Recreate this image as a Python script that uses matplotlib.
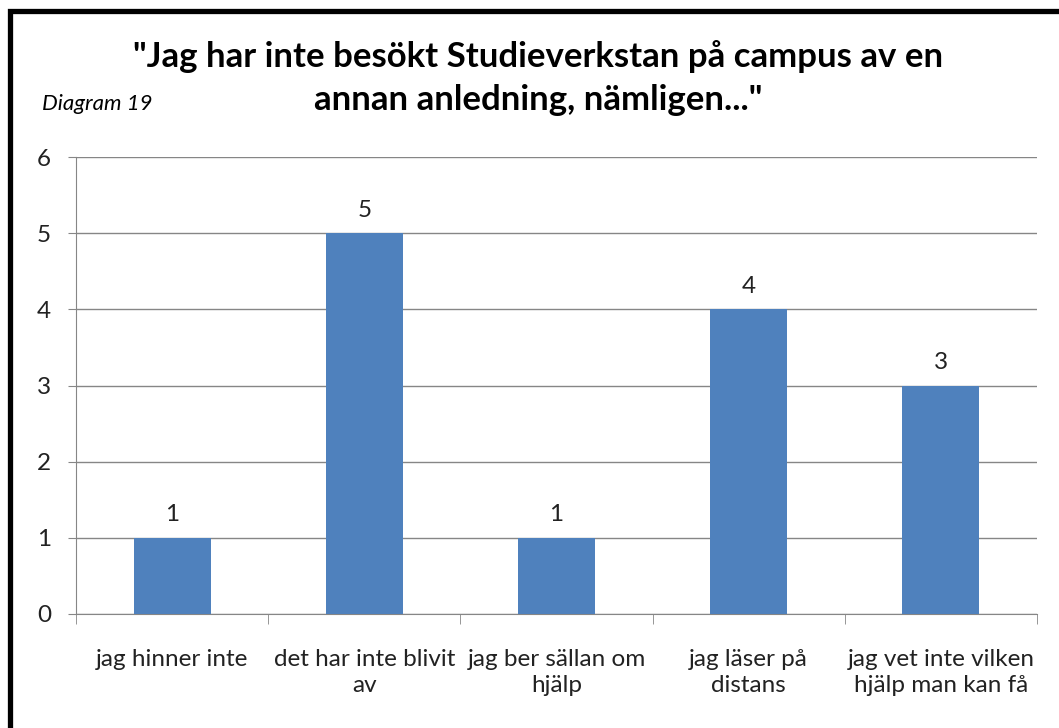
import matplotlib.pyplot as plt
from matplotlib.patches import Rectangle

# data
categories = ["jag hinner inte", "det har inte blivit\nav", "jag ber sällan om\nhjälp",
              "jag läser på\ndistans", "jag vet inte vilken\nhjälp man kan få"]
counts = [1, 5, 1, 4, 3]
y_ticks = [0, 1, 2, 3, 4, 5, 6]

title_lines = ['"Jag har inte besökt Studieverkstan på campus av en',
               'annan anledning, nämligen..."']
tag = "Diagram 19"

plt.rcParams['font.family'] = ['Lato', 'DejaVu Sans']

fig = plt.figure(figsize=(10.59, 7.28), dpi=100)
ax = fig.add_axes([76 / 1059, 1 - 614 / 728, (1037 - 76) / 1059, (614 - 157) / 728])

x = list(range(len(categories)))
bars = ax.bar(x, counts, width=0.4, color="#4F81BD", zorder=3)
ax.bar_label(bars, padding=9, fontsize=17.5, color="#222222")

ax.set_xlim(-0.5, len(categories) - 0.5)
ax.set_ylim(0, 6)
ax.set_yticks(y_ticks)
ax.set_xticks(x)
ax.set_xticklabels(categories, fontsize=17.5, color="#222222", linespacing=1.3)
ax.set_xticks([i - 0.5 for i in range(len(categories) + 1)], minor=True)
ax.tick_params(axis="x", which="major", length=0, pad=25)
ax.tick_params(axis="x", which="minor", length=7, color="#868686")
ax.tick_params(axis="y", length=6, color="#868686", labelsize=17.5, labelcolor="#222222", pad=12)

ax.grid(axis="y", color="#868686", linewidth=1, zorder=0)
for s in ["top", "right"]:
    ax.spines[s].set_visible(False)
for s in ["left", "bottom"]:
    ax.spines[s].set_color("#868686")

# two title lines as separate texts so the tag at left stays clear
fig.text(0.508, 1 - 57 / 728, title_lines[0], ha="center", va="center", fontsize=25,
         fontweight="bold")
fig.text(0.508, 1 - 100 / 728, title_lines[1], ha="center", va="center", fontsize=25,
         fontweight="bold")
fig.text(42 / 1059, 1 - 104 / 728, tag, ha="left", va="center", fontsize=16,
         style="italic")

# thick black frame, right and bottom edges run off the picture
fig.patches.append(Rectangle((9.5 / 1059, -0.1), 1.2, 1.1 - 11 / 728,
                             transform=fig.transFigure, fill=False,
                             edgecolor="black", linewidth=3.8))

fig.savefig("out.png", dpi=100)
